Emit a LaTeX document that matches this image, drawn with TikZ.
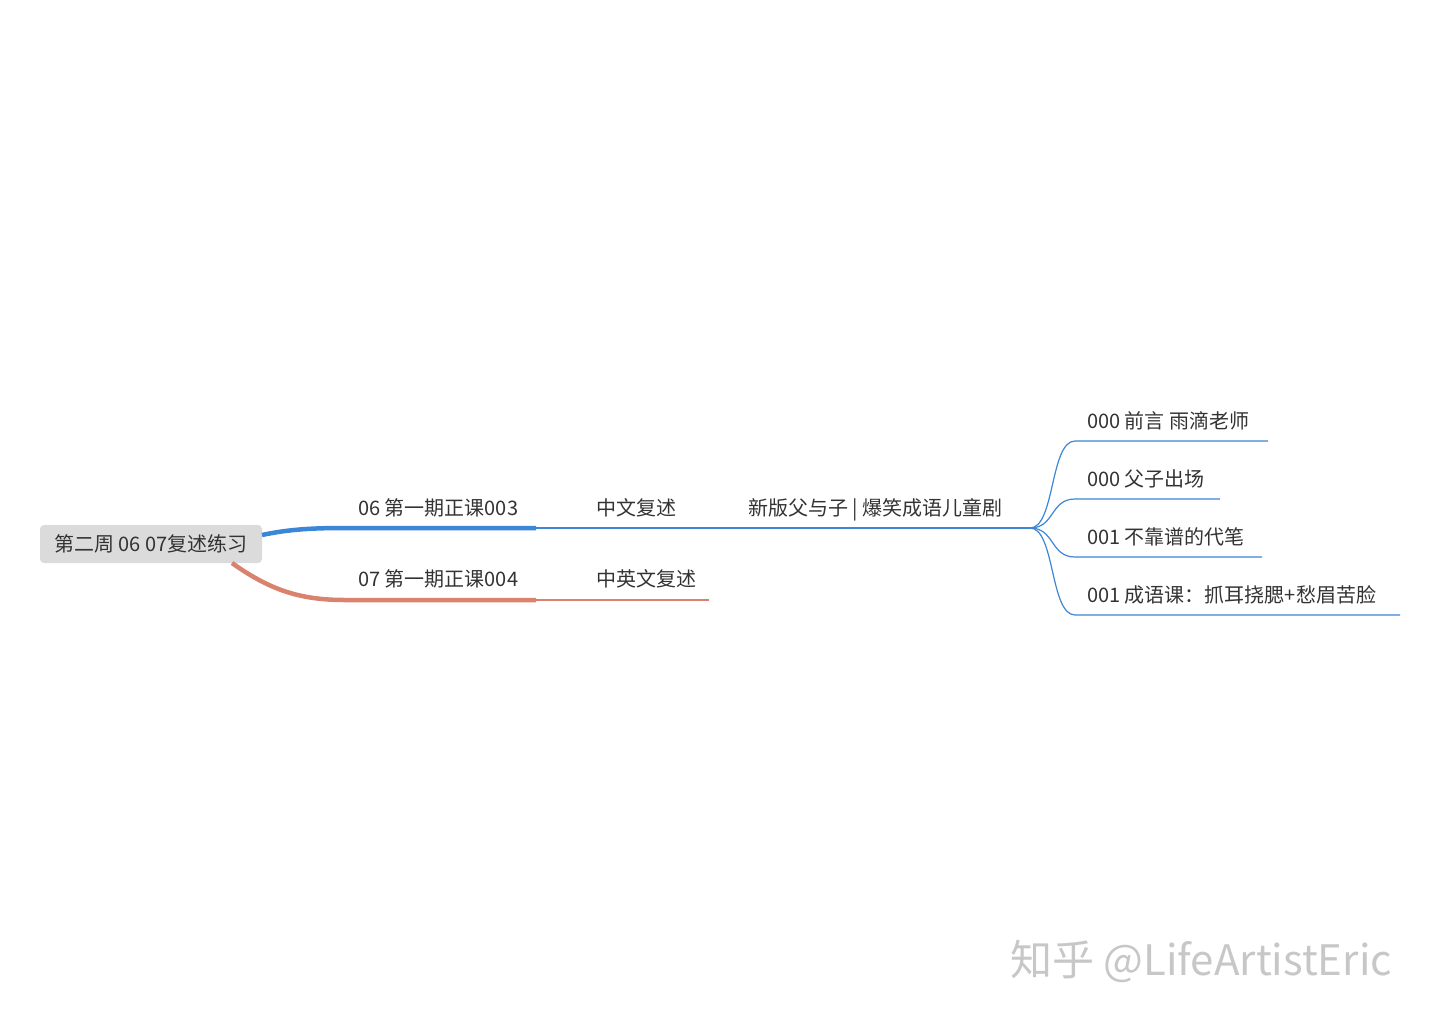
\documentclass[tikz,border=0pt]{standalone}
\usepackage{fontspec}
\setmainfont{Liberation Sans}
\newfontfamily\cjk{Noto Sans CJK SC}
\definecolor{bl}{HTML}{3B86D6}
\definecolor{rd}{HTML}{D9826E}
\definecolor{tx}{HTML}{333333}
\begin{document}
\begin{tikzpicture}[x=1pt,y=-1pt,
  lbl/.style={anchor=base west,font=\cjk\fontsize{20}{23}\selectfont,text=tx,inner sep=0pt},
  br/.style={line cap=round}]
\useasboundingbox (0,0) rectangle (1440,1018);
\node[fill=black!14,rounded corners=4pt,minimum width=222pt,minimum height=38pt,font=\cjk\fontsize{20}{23}\selectfont,text=tx] (root) at (151,544) {第二周 06 07复述练习};
% blue
\coordinate (b0) at (262,535);
\coordinate (b1) at (345,528);
\coordinate (b2) at (536,528);
\coordinate (b3) at (688,528);
\coordinate (b4) at (1030,528);
\draw[bl,line width=4.5pt] (b0) .. controls (290,529) and (315,528) .. (b1) -- (b2);
\draw[bl,line width=2.5pt] (b2) -- (b3);
\draw[bl,line width=1.5pt] (b3) -- (b4);
\node[lbl] (n1) at (358,515) {06 第一期正课003};
\node[lbl] (n2) at (596,515) {中文复述};
\node[lbl] (n3) at (748,515) {新版父与子 | 爆笑成语儿童剧};
\foreach \y/\e/\t in {441/1268/{000 前言 雨滴老师},499/1220/{000 父子出场},557/1262/{001 不靠谱的代笔},615/1400/{001 成语课：抓耳挠腮+愁眉苦脸}}{
  \draw[bl,line width=1.2pt] (b4) .. controls (1055,528) and (1050,\y) .. (1075,\y) -- (\e,\y);
  \node[lbl] at (1087,\y-13) {\t};
}
% red
\coordinate (r0) at (232,563);
\coordinate (r1) at (345,600);
\coordinate (r2) at (536,600);
\coordinate (r3) at (709,600);
\draw[rd,line width=4.5pt] (r0) .. controls (270,590) and (300,600) .. (r1) -- (r2);
\draw[rd,line width=2.5pt] (r2) -- (r3);
\node[lbl] (m1) at (358,586) {07 第一期正课004};
\node[lbl] (m2) at (596,586) {中英文复述};
\node[anchor=base west,inner sep=0pt,text=black!22,font=\cjk\fontsize{42}{46}\selectfont] (wm) at (1010,975) {知乎 @LifeArtistEric};
\end{tikzpicture}
\end{document}
